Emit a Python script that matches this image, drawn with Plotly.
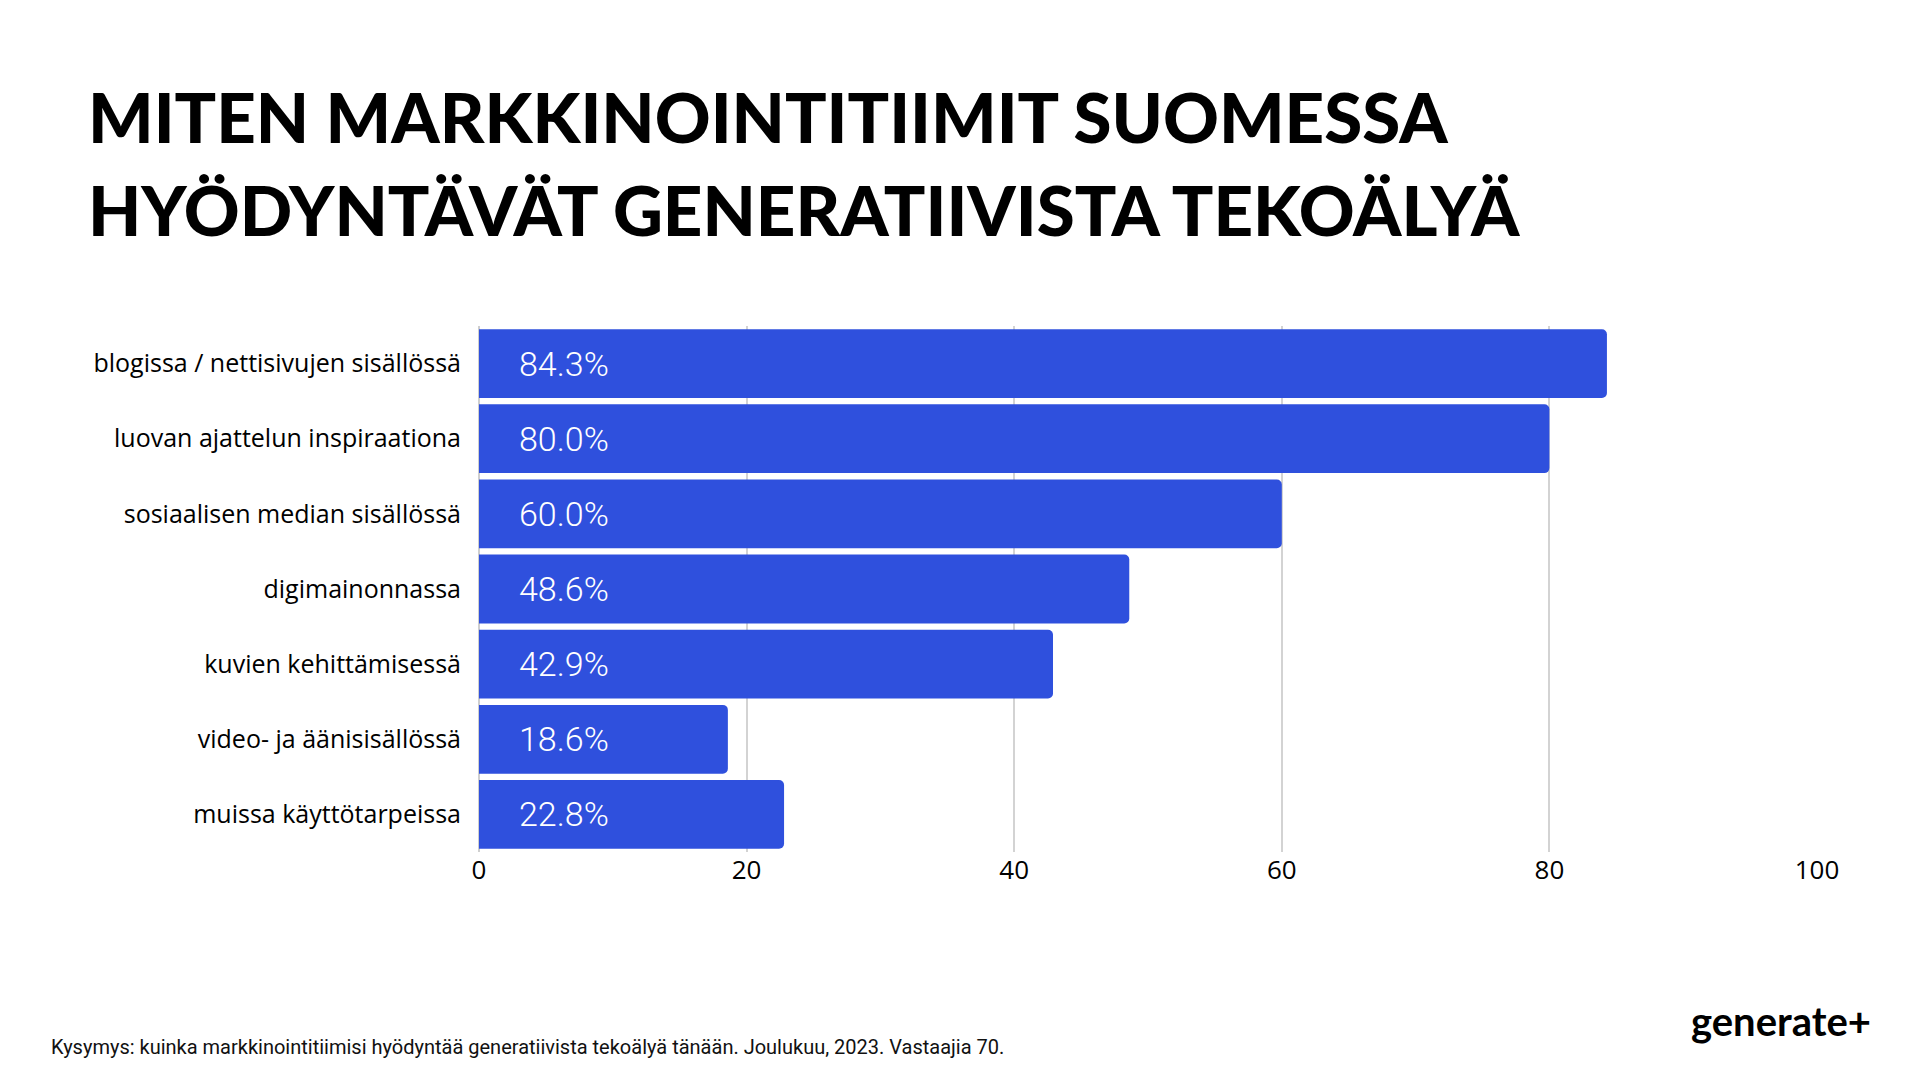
import plotly.graph_objects as go

categories = [
    "blogissa / nettisivujen sisällössä",
    "luovan ajattelun inspiraationa",
    "sosiaalisen median sisällössä",
    "digimainonnassa",
    "kuvien kehittämisessä",
    "video- ja äänisisällössä",
    "muissa käyttötarpeissa",
]
values = [84.3, 80.0, 60.0, 48.6, 42.9, 18.6, 22.8]
x_ticks = [0, 20, 40, 60, 80, 100]

title_text = "MITEN MARKKINOINTITIIMIT SUOMESSA<br>HYÖDYNTÄVÄT GENERATIIVISTA TEKOÄLYÄ"
footnote = "Kysymys: kuinka markkinointitiimisi hyödyntää generatiivista tekoälyä tänään. Joulukuu, 2023. Vastaajia 70."
logo = "generate+"

BAR_COLOR = "#2F50DD"

L, R, T, B = 479, 103, 326, 228
PW = 1920 - L - R
PH = 1080 - T - B

def px_x(px):
    return (px - L) / PW

def px_y(py):
    return (1080 - B - py) / PH

fig = go.Figure()
fig.add_trace(go.Bar(
    x=values,
    y=categories,
    orientation="h",
    marker=dict(color=BAR_COLOR, line=dict(width=0)),
    hoverinfo="skip",
))

# value labels inside bars (near bar start)
for c, v in zip(categories, values):
    fig.add_annotation(
        x=6.35, y=c, xref="x", yref="y",
        text=f"{v:.1f}%", showarrow=False,
        xanchor="center", yanchor="middle",
        font=dict(family="Roboto", size=34, color="white", weight=300),
    )

# title lines
fig.add_annotation(
    x=px_x(86), y=px_y(116), xref="paper", yref="paper",
    text="MITEN MARKKINOINTITIIMIT SUOMESSA", showarrow=False,
    xanchor="left", yanchor="middle",
    font=dict(family="Lato", size=69, color="#000000", weight=900),
)
fig.add_annotation(
    x=px_x(86), y=px_y(210), xref="paper", yref="paper",
    text="HYÖDYNTÄVÄT GENERATIIVISTA TEKOÄLYÄ", showarrow=False,
    xanchor="left", yanchor="middle",
    font=dict(family="Lato", size=69, color="#000000", weight=900),
)

fig.add_annotation(
    x=px_x(49), y=px_y(1047), xref="paper", yref="paper",
    text=footnote, showarrow=False, xanchor="left", yanchor="middle",
    font=dict(family="Roboto", size=20, color="#111111"),
)

fig.add_annotation(
    x=px_x(1873), y=px_y(1021), xref="paper", yref="paper",
    text=f"<b>{logo}</b>", showarrow=False, xanchor="right", yanchor="middle",
    font=dict(family="Lato", size=40, color="#000000", weight=900),
)

fig.update_layout(
    width=1920, height=1080,
    margin=dict(l=L, r=R, t=T, b=B),
    paper_bgcolor="white", plot_bgcolor="white",
    bargap=0.085,
    barcornerradius=5,
    showlegend=False,
    xaxis=dict(
        range=[0, 100],
        tickvals=x_ticks,
        ticktext=[str(t) for t in x_ticks],
        showgrid=True, gridcolor="#d3d3d3", gridwidth=2,
        zeroline=True, zerolinecolor="#cfcfcf", zerolinewidth=2,
        showline=False, ticks="",
        tickfont=dict(family="Open Sans", size=26, color="#000000"),
        fixedrange=True,
    ),
    yaxis=dict(
        autorange="reversed",
        showgrid=False, zeroline=False, showline=False, ticks="",
        ticklabelstandoff=17,
        tickfont=dict(family="Open Sans", size=25, color="#000000"),
    ),
)

fig.write_html("out.html")
